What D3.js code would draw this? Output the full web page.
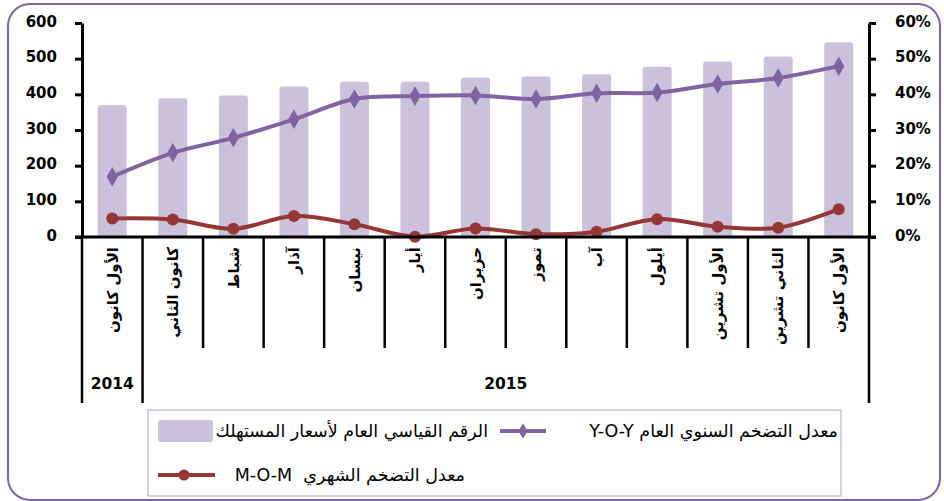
<!DOCTYPE html>
<html>
<head>
<meta charset="utf-8">
<script src="https://cdn.jsdelivr.net/npm/d3@7"></script>
<style>
  body { margin: 0; background: #fff; }
  svg text { font-family: "DejaVu Sans", sans-serif; }
  .tick text { font-size: 15px; font-weight: bold; fill: #000; }
  .legend text { white-space: pre; }
</style>
</head>
<body>
<div id="chart"></div>
<script>
// months as they appear top-to-bottom on the axis
var months = ["الأول كانون", "كانون الثاني", "شباط", "آذار", "نيسان", "أيار", "حزيران",
              "تموز", "آب", "أيلول", "الأول تشرين", "الثاني تشرين", "الأول كانون"];
var years = ["2014", "2015"];
var yearSpans = [[0, 1], [1, 13]];

// consumer price index (left axis)
var cpi = [370, 389, 397, 422, 435, 435, 447, 450, 456, 477, 492, 506, 546];
// inflation rates in % (right axis)
var yoy = [16.9, 23.6, 27.8, 33.0, 38.7, 39.5, 39.7, 38.7, 40.3, 40.5, 42.9, 44.6, 47.9];
var mom = [5.2, 4.9, 2.3, 5.9, 3.6, 0.1, 2.4, 0.8, 1.5, 5.0, 2.9, 2.6, 7.8];

var legendNames = ["الرقم القياسي العام لأسعار المستهلك", "معدل التضخم السنوي العام Y-O-Y", "معدل التضخم الشهري  M-O-M"];

var width = 944, height = 501;
var margin = {top: 23, left: 82, right: 944 - 869, bottom: 501 - 237};
var colors = {bar: "#CCC1DA", yoy: "#8064A2", mom: "#953735", frame: "#8064A2", legend: "#CCC1DA"};

var svg = d3.select("#chart").append("svg")
    .attr("width", width)
    .attr("height", height);

// outer rounded frame
svg.append("rect")
    .attr("x", 8).attr("y", 4)
    .attr("width", 932).attr("height", 496)
    .attr("rx", 22).attr("ry", 22)
    .attr("fill", "none")
    .attr("stroke", colors.frame)
    .attr("stroke-width", 2);

var x = d3.scaleBand()
    .domain(d3.range(months.length))
    .range([margin.left, width - margin.right]);

var y = d3.scaleLinear().domain([0, 600]).range([237, 23]);
var y2 = d3.scaleLinear().domain([0, 60]).range([237, 23]);

// bars
var barW = 29;
svg.selectAll("path.bar").data(cpi).enter().append("path")
    .attr("class", "bar")
    .attr("fill", colors.bar)
    .attr("d", function(d, i){
        var x0 = x(i) + x.bandwidth() / 2 - barW / 2, y0 = y(d), y1 = y(0), r = 3;
        return "M" + x0 + "," + y1 + "V" + (y0 + r) + "Q" + x0 + "," + y0 + " " + (x0 + r) + "," + y0 +
               "H" + (x0 + barW - r) + "Q" + (x0 + barW) + "," + y0 + " " + (x0 + barW) + "," + (y0 + r) +
               "V" + y1 + "Z";
    });

// lines
var line = d3.line()
    .x(function(d, i){ return x(i) + x.bandwidth() / 2; })
    .y(function(d){ return y2(d); })
    .curve(d3.curveCatmullRom.alpha(0.5));

svg.append("path").datum(yoy)
    .attr("d", line)
    .attr("fill", "none")
    .attr("stroke", colors.yoy)
    .attr("stroke-width", 4);

svg.append("path").datum(mom)
    .attr("d", line)
    .attr("fill", "none")
    .attr("stroke", colors.mom)
    .attr("stroke-width", 4);

svg.selectAll("path.diamond").data(yoy).enter().append("path")
    .attr("class", "diamond")
    .attr("d", d3.symbol(d3.symbolDiamond, 110))
    .attr("transform", function(d, i){ return "translate(" + (x(i) + x.bandwidth() / 2) + "," + y2(d) + ")"; })
    .attr("fill", colors.yoy);

svg.selectAll("circle.dot").data(mom).enter().append("circle")
    .attr("class", "dot")
    .attr("cx", function(d, i){ return x(i) + x.bandwidth() / 2; })
    .attr("cy", function(d){ return y2(d); })
    .attr("r", 6)
    .attr("fill", colors.mom);

// axes
var leftAxis = svg.append("g")
    .attr("transform", "translate(" + margin.left + ",0)")
    .call(d3.axisLeft(y).ticks(6).tickSize(7).tickSizeOuter(0));
var rightAxis = svg.append("g")
    .attr("transform", "translate(" + (width - margin.right) + ",0)")
    .call(d3.axisRight(y2).ticks(6).tickSize(7).tickSizeOuter(0)
        .tickFormat(function(d){ return d + "%"; }));
[leftAxis, rightAxis].forEach(function(g){
    g.select(".domain").attr("stroke", "#000").attr("stroke-width", 3);
    g.selectAll(".tick line").attr("stroke", "#000").attr("stroke-width", 3);
    g.selectAll(".tick text").attr("font-family", "DejaVu Sans").attr("dy", "0.2em");
});
leftAxis.selectAll(".tick text").attr("x", -25);
rightAxis.selectAll(".tick text").attr("x", 26);

// category axis
svg.append("line")
    .attr("x1", margin.left - 7).attr("x2", width - margin.right + 7)
    .attr("y1", y(0)).attr("y2", y(0))
    .attr("stroke", "#000").attr("stroke-width", 3);

var bounds = d3.range(months.length + 1);
svg.selectAll("line.sep").data(bounds).enter().append("line")
    .attr("class", "sep")
    .attr("x1", function(d){ return d < months.length ? x(d) : x.range()[1]; })
    .attr("x2", function(d){ return d < months.length ? x(d) : x.range()[1]; })
    .attr("y1", y(0))
    .attr("y2", function(d){ return (d == 0 || d == 1 || d == months.length) ? 403 : 348; })
    .attr("stroke", "#000").attr("stroke-width", 2.5);

svg.selectAll("text.month").data(months).enter().append("text")
    .attr("class", "month")
    .attr("transform", function(d, i){ return "translate(" + (x(i) + x.bandwidth() / 2) + ",247) rotate(-90)"; })
    .attr("direction", "rtl")
    .attr("text-anchor", "start")
    .attr("dy", "0.35em")
    .attr("font-size", 15)
    .attr("font-weight", "bold")
    .text(function(d){ return d; });

svg.selectAll("text.year").data(years).enter().append("text")
    .attr("class", "year")
    .attr("x", function(d, i){
        var s = yearSpans[i];
        var x1 = s[1] < months.length ? x(s[1]) : x.range()[1];
        return (x(s[0]) + x1) / 2;
    })
    .attr("y", 389)
    .attr("text-anchor", "middle")
    .attr("font-size", 15.5)
    .attr("font-weight", "bold")
    .text(function(d){ return d; });

// legend
var legend = svg.append("g").attr("class", "legend");
legend.append("rect")
    .attr("x", 148).attr("y", 410)
    .attr("width", 693).attr("height", 86)
    .attr("fill", "none")
    .attr("stroke", colors.legend)
    .attr("stroke-width", 1.5);

legend.append("rect")
    .attr("x", 158).attr("y", 420)
    .attr("width", 55).attr("height", 22)
    .attr("rx", 3)
    .attr("fill", colors.bar);
legend.append("text")
    .attr("x", 488).attr("y", 431)
    .attr("dy", "0.35em")
    .attr("direction", "rtl")
    .attr("text-anchor", "start")
    .attr("font-size", 17.5)
    .text(legendNames[0]);

legend.append("line")
    .attr("x1", 500).attr("x2", 546).attr("y1", 431).attr("y2", 431)
    .attr("stroke", colors.yoy).attr("stroke-width", 4);
legend.append("path")
    .attr("d", d3.symbol(d3.symbolDiamond, 70))
    .attr("transform", "translate(523,431)")
    .attr("fill", colors.yoy);
legend.append("text")
    .attr("x", 838).attr("y", 431)
    .attr("dy", "0.35em")
    .attr("direction", "rtl")
    .attr("text-anchor", "start")
    .attr("font-size", 17.5)
    .text(legendNames[1]);

legend.append("line")
    .attr("x1", 158).attr("x2", 215).attr("y1", 475).attr("y2", 475)
    .attr("stroke", colors.mom).attr("stroke-width", 4);
legend.append("circle")
    .attr("cx", 184).attr("cy", 475).attr("r", 5.5)
    .attr("fill", colors.mom);
legend.append("text")
    .attr("x", 465).attr("y", 475)
    .attr("dy", "0.35em")
    .attr("direction", "rtl")
    .attr("text-anchor", "start")
    .attr("font-size", 17.5)
    .text(legendNames[2]);
</script>
</body>
</html>
